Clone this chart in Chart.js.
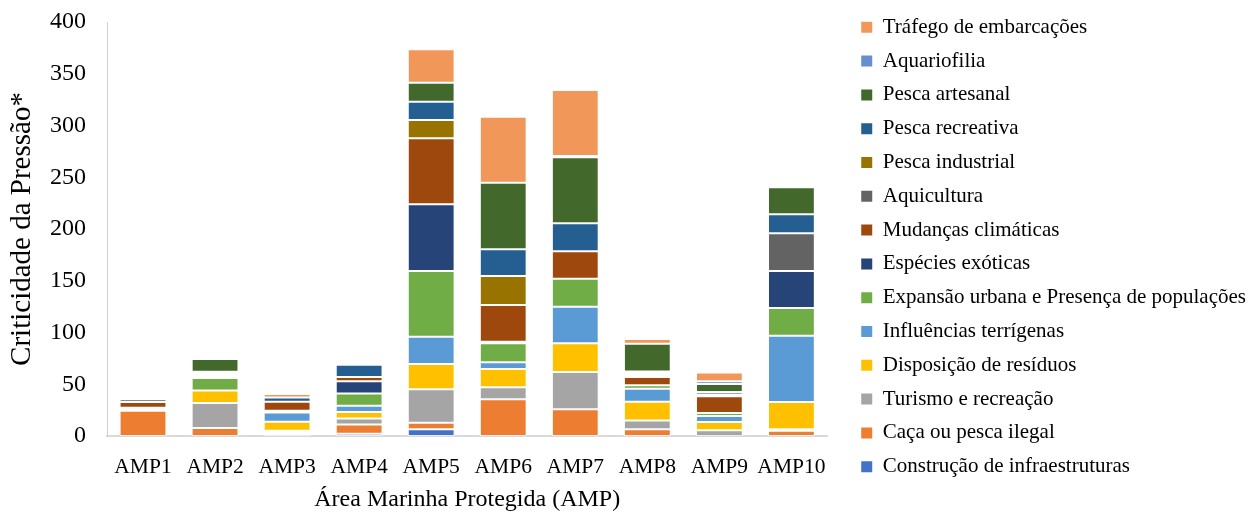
<!DOCTYPE html>
<html>
<head>
<meta charset="utf-8">
<script src="https://cdn.jsdelivr.net/npm/chart.js@4"></script>
<style>
  html, body { margin: 0; padding: 0; background: #fff; }
  #wrap { width: 1251px; height: 513px; }
</style>
</head>
<body>
<div id="wrap"><canvas id="c" width="1251" height="513"></canvas></div>
<script>
// Áreas Marinhas Protegidas
const categories = ['AMP1', 'AMP2', 'AMP3', 'AMP4', 'AMP5', 'AMP6', 'AMP7', 'AMP8', 'AMP9', 'AMP10'];

// Criticidade de cada pressão por AMP (ordem de empilhamento, de baixo para cima)
const construcao      = [0,    0,    1.6,  2.2,  6.5,  0,    0,    0,    0,    0];
const caca            = [24.5, 7.7,  1.9,  9.0,  6.4,  35.5, 25.8, 6.5,  0,    5.1];
const turismo         = [0,    24.2, 1.6,  5.8,  32.2, 11.6, 36.0, 8.4,  5.5,  1.4];
const residuos        = [0,    12.0, 8.7,  6.1,  24.5, 17.6, 27.8, 18.1, 8.1,  26.4];
const terrigenas      = [1.2,  0,    9.0,  6.1,  26.3, 6.5,  35.3, 12.6, 5.8,  64.0];
const expansao        = [0,    12.2, 0,    11.9, 63.5, 18.4, 27.1, 3.5,  2.9,  26.8];
const exoticas        = [1.6,  1.9,  1.6,  11.9, 64.5, 1.5,  0,    0,    0,    35.7];
const climaticas      = [5.6,  1.3,  8.7,  3.9,  63.7, 35.5, 26.5, 8.0,  16.1, 0];
const aquicultura     = [2.6,  0.8,  0,    0,    0,    0,    0,    1.9,  1.6,  36.4];
const pescaIndustrial = [0,    1.9,  0,    0,    17.7, 28.0, 0,    1.6,  0,    0];
const pescaRecreativa = [0,    0,    4.2,  11.9, 17.7, 25.8, 27.0, 1.6,  2.6,  18.4];
const pescaArtesanal  = [1.6,  12.3, 0,    0,    18.4, 64.3, 63.8, 27.0, 7.7,  26.1];
const aquariofilia    = [0,    0,    0,    0,    0,    0,    1.2,  0,    2.6,  0];
const trafego         = [0,    0,    3.3,  0,    32.2, 63.8, 63.8, 4.5,  8.4,  0];

const yTicks = [0, 50, 100, 150, 200, 250, 300, 350, 400];

const series = [
  ['Construção de infraestruturas', construcao, '#4472C4'],
  ['Caça ou pesca ilegal', caca, '#ED7D31'],
  ['Turismo e recreação', turismo, '#A5A5A5'],
  ['Disposição de resíduos', residuos, '#FFC000'],
  ['Influências terrígenas', terrigenas, '#5B9BD5'],
  ['Expansão urbana e Presença de populações', expansao, '#70AD47'],
  ['Espécies exóticas', exoticas, '#264478'],
  ['Mudanças climáticas', climaticas, '#9E480E'],
  ['Aquicultura', aquicultura, '#636363'],
  ['Pesca industrial', pescaIndustrial, '#997300'],
  ['Pesca recreativa', pescaRecreativa, '#255E91'],
  ['Pesca artesanal', pescaArtesanal, '#43682B'],
  ['Aquariofilia', aquariofilia, '#698ED0'],
  ['Tráfego de embarcações', trafego, '#F1975A']
];

const serif = 'Liberation Serif';

const datasets = series.map(([label, values, color]) => ({
  label,
  data: values.map(v => (v === 0 ? null : v)),
  backgroundColor: color,
  borderColor: 'rgba(255,255,255,0.5)',
  borderWidth: 1,
  borderSkipped: false,
  barPercentage: 0.65,
  categoryPercentage: 1.0
}));

new Chart(document.getElementById('c'), {
  type: 'bar',
  data: { labels: categories, datasets },
  options: {
    responsive: false,
    animation: false,
    layout: { padding: { top: 4, right: -5, bottom: 0, left: 0 } },
    plugins: {
      tooltip: { enabled: false },
      legend: {
        position: 'right',
        align: 'start',
        reverse: true,
        maxWidth: 440,
        labels: {
          color: '#000',
          font: { family: serif, size: 21 },
          boxWidth: 11,
          boxHeight: 11,
          padding: 12.8,
          generateLabels(chart) {
            return Chart.defaults.plugins.legend.labels.generateLabels(chart)
              .map(item => Object.assign(item, { lineWidth: 0, strokeStyle: item.fillStyle }));
          }
        }
      }
    },
    scales: {
      x: {
        stacked: true,
        grid: { display: false, drawTicks: false },
        border: { display: true, color: '#d9d9d9', width: 2 },
        ticks: { color: '#000', font: { family: serif, size: 21.5 }, padding: 18, maxRotation: 0 },
        title: {
          display: true,
          text: 'Área Marinha Protegida (AMP)',
          color: '#000',
          font: { family: serif, size: 24, lineHeight: 1.1 },
          padding: { top: 0, bottom: 0 }
        },
        afterFit(s) { s.height = 77; }
      },
      y: {
        stacked: true,
        min: 0,
        max: 400,
        grid: { display: false, drawTicks: false },
        border: { display: true, color: '#d0d0d0', width: 1 },
        afterBuildTicks(s) { s.ticks = yTicks.map(v => ({ value: v })); },
        ticks: { color: '#000', font: { family: serif, size: 24 }, padding: 21 },
        title: {
          display: true,
          text: 'Criticidade da Pressão*',
          color: '#000',
          font: { family: serif, size: 29 },
          padding: { top: 5, bottom: 0 }
        },
        afterFit(s) { s.width = 107; s.paddingTop = 22; }
      },
      gap: {
        type: 'linear',
        position: 'right',
        display: true,
        grid: { display: false, drawTicks: false },
        border: { display: false },
        ticks: { display: false },
        afterFit(s) { s.width = 21; }
      }
    }
  }
});
</script>
</body>
</html>
